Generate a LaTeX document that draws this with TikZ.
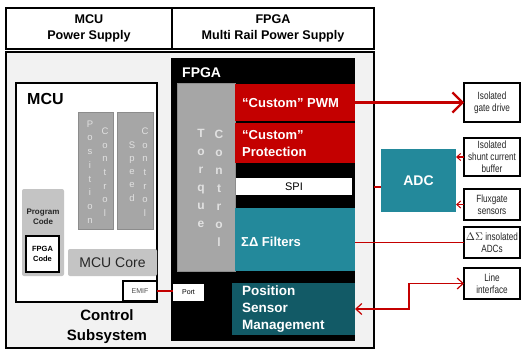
\documentclass[tikz,border=0pt]{standalone}
\usepackage{fontspec}
\setmainfont{Liberation Sans}
\newfontfamily\narrowfont[FakeStretch=0.78]{Liberation Sans}
\usetikzlibrary{arrows.meta}
\definecolor{tired}{RGB}{196,0,0}
\definecolor{titeal}{RGB}{35,137,155}
\definecolor{tidark}{RGB}{18,90,102}
\definecolor{bggray}{RGB}{242,242,242}
\definecolor{midgray}{RGB}{166,166,166}
\definecolor{ltgray}{RGB}{196,196,196}
\definecolor{lettergray}{RGB}{225,225,225}
\tikzset{
  blk/.style={anchor=north west, inner sep=0pt, outer sep=0pt},
  lbl/.style={inner sep=0pt, align=center},
  redline/.style={draw=tired, line width=1.3pt},
  sbarb/.style={-{Straight Barb[length=4pt,width=7pt,line width=1pt]}},
  rbox/.style={blk, draw=black, line width=2pt, fill=white, align=center,
    font=\narrowfont\fontsize{10.5}{11.8}\selectfont, text=black!85},
  whitebold/.style={text=white, font=\bfseries\fontsize{13}{17}\selectfont, align=left, inner sep=0pt, anchor=west},
  vlet/.style={inner sep=0pt, align=center, anchor=north, text=lettergray}
}
\begin{document}
\begin{tikzpicture}[x=1pt,y=-1pt]
\useasboundingbox (0,0) rectangle (521,350);
% power supplies
\node[blk, draw=black, line width=2pt, minimum width=166pt, minimum height=41pt, align=center,
  font=\bfseries\fontsize{12.6}{16.5}\selectfont] (mcups) at (6,8) {MCU\\Power Supply};
\node[blk, draw=black, line width=2pt, minimum width=202pt, minimum height=41pt, align=center,
  font=\bfseries\fontsize{12.6}{16.5}\selectfont] (fpgaps) at (172,8) {FPGA\\Multi Rail Power Supply};
% control subsystem
\node[blk, draw=black, line width=2pt, fill=bggray, minimum width=368pt, minimum height=296pt] (ctrl) at (6,52) {};
\node[lbl, font=\bfseries\fontsize{15}{20}\selectfont] (ctrllbl) at (107,327) {Control\\Subsystem};
% MCU
\node[blk, draw=black, line width=1.5pt, fill=white, minimum width=141pt, minimum height=219pt] (mcu) at (16,83) {};
\node[lbl, anchor=west, font=\bfseries\fontsize{16}{18}\selectfont] (mculbl) at (27,99) {MCU};
\node[blk, draw=black!45, line width=1pt, fill=midgray, minimum width=35pt, minimum height=117pt] (posc) at (78,112) {};
\node[blk, draw=black!45, line width=1pt, fill=midgray, minimum width=36pt, minimum height=117pt] (spdc) at (117,112) {};
\node[vlet, font=\fontsize{9.5}{13.7}\selectfont] (posl1) at (90,120.5) {P\\o\\s\\i\\t\\i\\o\\n};
\node[vlet, font=\fontsize{9.5}{13.7}\selectfont] (posl2) at (105,127.5) {C\\o\\n\\t\\r\\o\\l};
\node[vlet, font=\fontsize{9.5}{13.2}\selectfont] (spdl1) at (132,141.5) {S\\p\\e\\e\\d};
\node[vlet, font=\fontsize{9.5}{13.7}\selectfont] (spdl2) at (145,127.5) {C\\o\\n\\t\\r\\o\\l};
\node[blk, fill=ltgray, rounded corners=2pt, minimum width=42pt, minimum height=87pt] (prog) at (22,189) {};
\node[lbl, font=\bfseries\fontsize{8}{10}\selectfont, text=black!85] (proglbl) at (43,217) {Program\\Code};
\node[blk, draw=black, line width=2pt, fill=white, minimum width=33pt, minimum height=36pt, align=center,
  font=\bfseries\fontsize{7.5}{10}\selectfont] (fpgacode) at (26,236) {FPGA\\Code};
\node[blk, fill=ltgray, rounded corners=2pt, minimum width=89pt, minimum height=27pt,
  font=\fontsize{14}{16}\selectfont, text=black!85] (mcucore) at (68,249) {MCU Core};
\node[blk, draw=black, line width=1.3pt, fill=white, minimum width=34pt, minimum height=20pt,
  font=\fontsize{7}{8}\selectfont, text=black!70] (emif) at (123,281) {EMIF};
% FPGA
\node[blk, fill=black, minimum width=184pt, minimum height=283pt] (fpga) at (171,58) {};
\node[lbl, anchor=west, text=white, font=\bfseries\fontsize{14}{16}\selectfont] (fpgalbl) at (182,73) {FPGA};
\node[blk, draw=black!45, line width=1pt, fill=midgray, minimum width=58pt, minimum height=187pt] (torque) at (177,84) {};
\node[vlet, font=\bfseries\fontsize{12}{18}\selectfont] (tq1) at (201,129.5) {T\\o\\r\\q\\u\\e};
\node[vlet, font=\bfseries\fontsize{12}{18}\selectfont] (tq2) at (219,129.5) {C\\o\\n\\t\\r\\o\\l};
\node[blk, fill=tired, minimum width=120pt, minimum height=37pt] (pwm) at (235,84) {};
\node[whitebold] (pwmlbl) at (242,103) {“Custom” PWM};
\node[blk, fill=tired, minimum width=120pt, minimum height=40pt] (prot) at (235,123) {};
\node[whitebold] (protlbl) at (242,143.5) {“Custom”\\Protection};
\node[blk, fill=white, minimum width=116pt, minimum height=17pt, font=\fontsize{11}{12}\selectfont] (spi) at (236,178) {SPI};
\node[blk, fill=titeal, minimum width=120pt, minimum height=63pt] (filt) at (235,208) {};
\node[whitebold] (filtlbl) at (241,242) {ΣΔ Filters};
\node[blk, fill=white, minimum width=31pt, minimum height=17pt, font=\fontsize{7}{8}\selectfont] (port) at (173,284) {Port};
\node[blk, fill=tidark, minimum width=123pt, minimum height=52pt] (psm) at (232,283) {};
\node[whitebold, font=\bfseries\fontsize{13.5}{17}\selectfont] (psmlbl) at (242,309) {Position\\Sensor\\Management};
% ADC
\node[blk, fill=titeal, minimum width=75pt, minimum height=63pt, text=white,
  font=\bfseries\fontsize{14}{16}\selectfont] (adc) at (381,149) {ADC};
% right boxes
\node[rbox, minimum width=56pt, minimum height=39pt] (gate) at (464,83) {Isolated\\gate drive};
\node[rbox, minimum width=56pt, minimum height=38pt] (shunt) at (464,138) {Isolated\\shunt current\\buffer};
\node[rbox, minimum width=56pt, minimum height=31pt] (flux) at (464,189) {Fluxgate\\sensors};
\node[rbox, minimum width=56pt, minimum height=31pt] (dsadc) at (464,227) {$\Delta\Sigma$ insolated\\ADCs};
\node[rbox, minimum width=56pt, minimum height=31pt] (linei) at (464,268) {Line\\interface};
% connectors
\draw[draw=tired, line width=2pt, -{Straight Barb[length=10pt,width=20pt,line width=2.2pt]}] (pwm.east) -- (gate.west);
\draw[redline, sbarb] (shunt.west) -- (shunt.west -| adc.east);
\draw[redline, sbarb] (flux.west) -- (flux.west -| adc.east);
\draw[redline] ([yshift=-6.5pt]adc.west) -- ([yshift=-6.5pt]adc.west -| ctrl.east);
\draw[redline] (dsadc.west) -- (dsadc.west -| filt.east);
\draw[redline, {Straight Barb[length=6pt,width=11pt,line width=1.2pt]}-{Straight Barb[length=6pt,width=11pt,line width=1.2pt]}]
  (psm.east) -- ++(54,0) |- (linei.west);
\draw[redline] (emif.east) -- (emif.east -| port.west);
\end{tikzpicture}
\end{document}
